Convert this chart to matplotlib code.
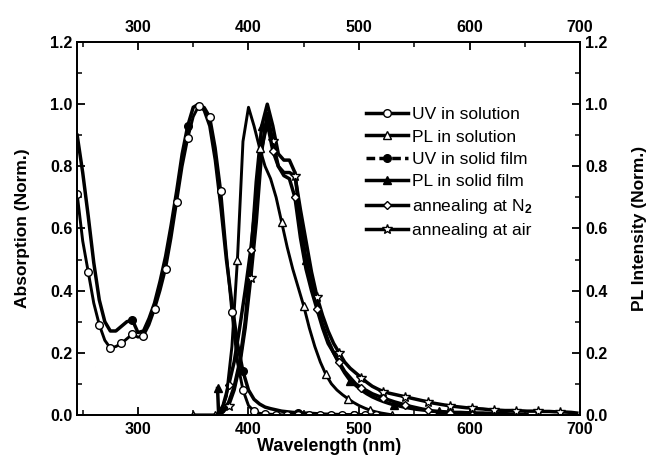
import matplotlib
matplotlib.use('Agg')
import matplotlib.pyplot as plt
from matplotlib.lines import Line2D
from matplotlib.ticker import MultipleLocator

# UV in solution
uv_sol_x = [245, 250, 255, 260, 265, 270, 275, 280, 285, 290, 295, 300, 305, 310, 315, 320,
            325, 330, 335, 340, 345, 350, 355, 360, 365, 370, 375, 380, 385, 390, 395, 400,
            405, 410, 415, 420, 425, 430, 435, 440, 445, 450, 455, 460, 465, 470, 475, 480,
            485, 490, 495, 500, 505, 510, 515, 520]
uv_sol_y = [0.71, 0.56, 0.46, 0.36, 0.29, 0.24, 0.215, 0.22, 0.23, 0.245, 0.26, 0.25, 0.255,
            0.29, 0.34, 0.40, 0.47, 0.57, 0.685, 0.80, 0.89, 0.96, 0.995, 0.99, 0.96, 0.86,
            0.72, 0.52, 0.33, 0.17, 0.08, 0.03, 0.012, 0.005, 0.003, 0.002, 0.001, 0.0, 0.0,
            0.0, 0.0, 0.0, 0.0, 0.0, 0.0, 0.0, 0.0, 0.0, 0.0, 0.0, 0.0, 0.0, 0.0, 0.0, 0.0, 0.0]

# UV in solid film
uv_film_x = [245, 250, 255, 260, 265, 270, 275, 280, 285, 290, 295, 300, 305, 310, 315, 320,
             325, 330, 335, 340, 345, 350, 355, 360, 365, 370, 375, 380, 385, 390, 395, 400,
             405, 410, 415, 420, 425, 430, 435, 440, 445, 450, 455, 460, 465, 470, 475, 480,
             485, 490, 495, 500, 505, 510]
uv_film_y = [0.90, 0.78, 0.64, 0.49, 0.37, 0.30, 0.27, 0.27, 0.285, 0.30, 0.305, 0.265, 0.27,
             0.31, 0.36, 0.43, 0.51, 0.61, 0.72, 0.84, 0.93, 0.99, 1.0, 0.98, 0.93, 0.82,
             0.67, 0.50, 0.36, 0.23, 0.14, 0.08, 0.05, 0.035, 0.025, 0.02, 0.016, 0.012, 0.01,
             0.008, 0.007, 0.006, 0.005, 0.004, 0.003, 0.002, 0.002, 0.001, 0.001, 0.0, 0.0,
             0.0, 0.0, 0.0]

# PL in solution
pl_sol_x = [350, 355, 360, 365, 370, 375, 380, 385, 390, 395, 400, 405, 410, 415, 420, 425,
            430, 435, 440, 445, 450, 455, 460, 465, 470, 475, 480, 485, 490, 495, 500, 505,
            510, 515, 520, 525, 530]
pl_sol_y = [0.0, 0.0, 0.0, 0.0, 0.0, 0.01, 0.06, 0.22, 0.50, 0.88, 0.99, 0.93, 0.86, 0.80,
            0.76, 0.70, 0.62, 0.54, 0.47, 0.41, 0.35, 0.28, 0.22, 0.17, 0.13, 0.10, 0.08,
            0.065, 0.052, 0.04, 0.03, 0.022, 0.015, 0.01, 0.006, 0.003, 0.0]

# PL in solid film
pl_film_x = [372, 373, 377, 382, 387, 392, 397, 402, 407, 412, 417, 422, 427, 432, 437, 442,
             447, 452, 457, 462, 467, 472, 477, 482, 487, 492, 497, 502, 507, 512, 517, 522,
             527, 532, 537, 542, 547, 552, 557, 562, 567, 572, 577, 582, 587, 592, 597, 602,
             607, 612, 617, 622, 627, 632, 637, 642, 647, 652]
pl_film_y = [0.085, 0.0, 0.01, 0.04, 0.09, 0.17, 0.30, 0.50, 0.75, 0.93, 1.0, 0.93, 0.84,
             0.82, 0.82, 0.78, 0.62, 0.50, 0.42, 0.35, 0.29, 0.24, 0.20, 0.165, 0.135, 0.11,
             0.095, 0.08, 0.068, 0.058, 0.05, 0.043, 0.037, 0.032, 0.028, 0.024, 0.021, 0.018,
             0.016, 0.014, 0.012, 0.011, 0.01, 0.009, 0.008, 0.008, 0.007, 0.007, 0.006,
             0.006, 0.005, 0.005, 0.004, 0.004, 0.003, 0.003, 0.002, 0.002]

# annealing at N2
n2_x = [372, 377, 382, 387, 392, 397, 402, 407, 412, 417, 422, 427, 432, 437, 442, 447, 452,
        457, 462, 467, 472, 477, 482, 487, 492, 497, 502, 507, 512, 517, 522, 527, 532, 537,
        542, 547, 552, 557, 562, 567, 572, 577, 582, 587, 592, 597, 602, 607, 612]
n2_y = [0.0, 0.03, 0.095, 0.17, 0.28, 0.40, 0.53, 0.70, 0.86, 0.94, 0.85, 0.80, 0.77, 0.76,
        0.70, 0.57, 0.47, 0.40, 0.34, 0.28, 0.23, 0.20, 0.17, 0.14, 0.12, 0.10, 0.088, 0.078,
        0.068, 0.061, 0.055, 0.048, 0.042, 0.037, 0.032, 0.027, 0.023, 0.019, 0.016, 0.012,
        0.01, 0.008, 0.006, 0.004, 0.003, 0.002, 0.001, 0.0, 0.0]

# annealing at air
air_x = [372, 377, 382, 387, 392, 397, 402, 407, 412, 417, 422, 427, 432, 437, 442, 447, 452,
         457, 462, 467, 472, 477, 482, 487, 492, 497, 502, 507, 512, 517, 522, 527, 532, 537,
         542, 547, 552, 557, 562, 567, 572, 577, 582, 587, 592, 597, 602, 607, 612, 617, 622,
         627, 632, 637, 642, 647, 652, 657, 662, 667, 672, 677, 682, 687, 692, 697]
air_y = [0.0, 0.01, 0.03, 0.08, 0.16, 0.28, 0.44, 0.62, 0.85, 0.97, 0.88, 0.80, 0.78, 0.78,
         0.77, 0.66, 0.56, 0.46, 0.38, 0.32, 0.27, 0.23, 0.20, 0.17, 0.15, 0.135, 0.12, 0.105,
         0.092, 0.083, 0.075, 0.07, 0.066, 0.062, 0.058, 0.054, 0.05, 0.046, 0.042, 0.038,
         0.035, 0.032, 0.029, 0.027, 0.025, 0.023, 0.022, 0.02, 0.019, 0.017, 0.016, 0.015,
         0.014, 0.014, 0.013, 0.013, 0.012, 0.012, 0.012, 0.011, 0.011, 0.01, 0.01, 0.009,
         0.008, 0.006]

labels = ['UV in solution', 'PL in solution', 'UV in solid film', 'PL in solid film',
          'annealing at N$_2$', 'annealing at air']

plt.rcParams['font.family'] = ['Liberation Sans', 'DejaVu Sans']
plt.rcParams['font.weight'] = 'bold'
plt.rcParams['axes.labelweight'] = 'bold'
plt.rcParams['mathtext.fontset'] = 'custom'
plt.rcParams['mathtext.rm'] = 'Liberation Sans'
plt.rcParams['mathtext.default'] = 'rm'

fig = plt.figure(figsize=(6.54, 4.62), dpi=100)
ax = fig.add_axes([0.118, 0.102, 0.769, 0.807])

lw = 2.5
ms = 5.5
mk = dict(color='black', lw=lw, ms=ms, mew=1.0)

ax.plot(pl_film_x, pl_film_y, marker='^', mfc='black', markevery=[0, 9, 17, 25, 33, 41], **mk)
ax.plot(air_x, air_y, marker='*', mfc='white', markevery=(2, 4), **dict(mk, ms=7))
ax.plot(n2_x, n2_y, marker='D', mfc='white', markevery=(2, 4), **dict(mk, ms=4.5))
ax.plot(uv_film_x, uv_film_y, marker='o', mfc='black', markevery=(10, 10), **mk)
ax.plot(pl_sol_x, pl_sol_y, marker='^', mfc='white', markevery=4, **dict(mk, lw=2.1))
ax.plot(uv_sol_x, uv_sol_y, marker='o', mfc='white', markevery=2, **dict(mk, lw=2.1))

ax.set_xlim(245, 700)
ax.set_ylim(0, 1.2)
ax.xaxis.set_major_locator(MultipleLocator(100))
ax.xaxis.set_minor_locator(MultipleLocator(50))
ax.yaxis.set_major_locator(MultipleLocator(0.2))
ax.yaxis.set_minor_locator(MultipleLocator(0.1))
ax.yaxis.set_major_formatter(plt.FormatStrFormatter('%.1f'))

ax2 = ax.twinx()
ax2.set_ylim(0, 1.2)
ax2.yaxis.set_major_locator(MultipleLocator(0.2))
ax2.yaxis.set_minor_locator(MultipleLocator(0.1))
ax2.yaxis.set_major_formatter(plt.FormatStrFormatter('%.1f'))

for a in (ax, ax2):
    a.tick_params(which='major', direction='in', length=6, width=1.3, labelsize=11.5)
    a.tick_params(which='minor', direction='in', length=3.5, width=1.1)
    for s in a.spines.values():
        s.set_linewidth(1.3)
ax.tick_params(which='both', top=True, labeltop=True, right=False)
ax.tick_params(axis='x', pad=5)

ax.set_xlabel('Wavelength (nm)', fontsize=13, labelpad=1)
ax.set_ylabel('Absorption (Norm.)', fontsize=12.5, labelpad=14)
ax2.set_ylabel('PL Intensity (Norm.)', fontsize=12.5, labelpad=18)

handles = [
    Line2D([], [], color='black', lw=lw, marker='o', mfc='white', ms=ms),
    Line2D([], [], color='black', lw=lw, marker='^', mfc='white', ms=ms),
    Line2D([], [], color='black', lw=lw, marker='o', mfc='black', ms=ms, dashes=(2.5, 1.2)),
    Line2D([], [], color='black', lw=lw, marker='^', mfc='black', ms=ms),
    Line2D([], [], color='black', lw=lw, marker='D', mfc='white', ms=4.5),
    Line2D([], [], color='black', lw=lw, marker='*', mfc='white', ms=7),
]
ax.legend(handles, labels, loc='upper left', bbox_to_anchor=(0.575, 0.826), frameon=False,
          borderaxespad=0, borderpad=0, handlelength=2.4, handletextpad=0.25,
          labelspacing=0.42, prop={'weight': 'normal', 'size': 12.5})

fig.savefig('out.png', dpi=100)
